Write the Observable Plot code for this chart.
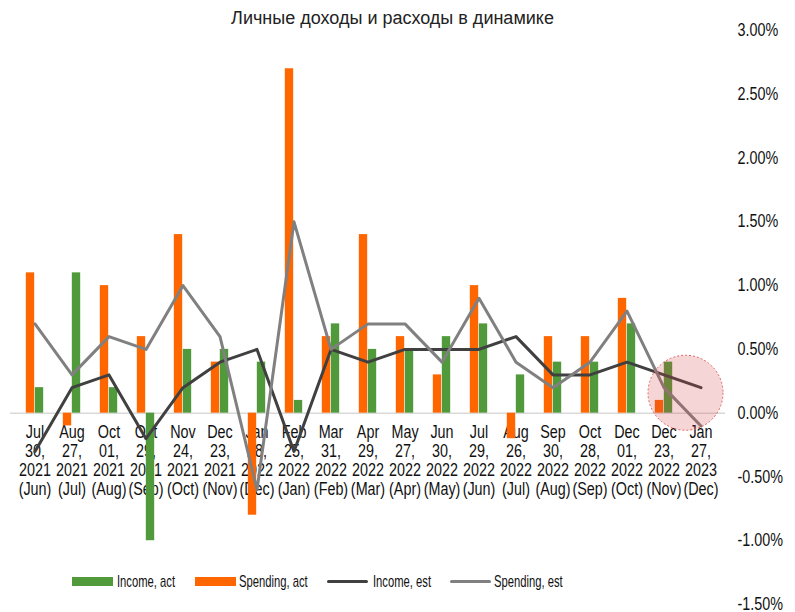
<!DOCTYPE html>
<html>
<head>
<meta charset="utf-8">
<script src="https://cdn.jsdelivr.net/npm/d3@7"></script>
<script src="https://cdn.jsdelivr.net/npm/@observablehq/plot@0.6"></script>
<style>
  html, body { margin: 0; padding: 0; background: #fff; }
  #wrap { position: relative; width: 795px; height: 612px; font-family: "Liberation Sans", Arial, sans-serif; color: #111; }
  #title { position: absolute; top: 7px; left: 0; width: 785px; text-align: center; font-size: 18px; line-height: 22px; color: #222; }
  #chart { position: absolute; top: 0; left: 0; }
  .leg { position: absolute; top: 572px; font-size: 17px; line-height: 20px; color: #111; white-space: nowrap; transform: scaleX(0.66); transform-origin: 0 50%; }
  .sw { position: absolute; }
</style>
</head>
<body>
<div id="wrap">
  <div id="chart"></div>
  <div id="title">Личные доходы и расходы в динамике</div>
</div>
<script>
// ---- data ----
const months = ["Jul 30, 2021 (Jun)", "Aug 27, 2021 (Jul)", "Oct 01, 2021 (Aug)", "Oct 29, 2021 (Sep)",
  "Nov 24, 2021 (Oct)", "Dec 23, 2021 (Nov)", "Jan 28, 2022 (Dec)", "Feb 25, 2022 (Jan)",
  "Mar 31, 2022 (Feb)", "Apr 29, 2022 (Mar)", "May 27, 2022 (Apr)", "Jun 30, 2022 (May)",
  "Jul 29, 2022 (Jun)", "Aug 26, 2022 (Jul)", "Sep 30, 2022 (Aug)", "Oct 28, 2022 (Sep)",
  "Dec 01, 2022 (Oct)", "Dec 23, 2022 (Nov)", "Jan 27, 2023 (Dec)"];
const incomeAct   = [0.2, 1.1, 0.2, -1.0, 0.5, 0.5, 0.4, 0.1, 0.7, 0.5, 0.5, 0.6, 0.7, 0.3, 0.4, 0.4, 0.7, 0.4, null];
const spendingAct = [1.1, -0.1, 1.0, 0.6, 1.4, 0.4, -0.8, 2.7, 0.6, 1.4, 0.6, 0.3, 1.0, -0.2, 0.6, 0.6, 0.9, 0.1, null];
const incomeEst   = [-0.3, 0.2, 0.3, -0.2, 0.2, 0.4, 0.5, -0.3, 0.5, 0.4, 0.5, 0.5, 0.5, 0.6, 0.3, 0.3, 0.4, 0.3, 0.2];
const spendingEst = [0.7, 0.3, 0.6, 0.5, 1.0, 0.6, -0.6, 1.5, 0.5, 0.7, 0.7, 0.4, 0.9, 0.4, 0.2, 0.4, 0.8, 0.2, -0.1];
const yTicks = [-1.5, -1.0, -0.5, 0, 0.5, 1.0, 1.5, 2.0, 2.5, 3.0];
const seriesNames = ["Income, act", "Spending, act", "Income, est", "Spending, est"];
const seriesColors = ["#519A3C", "#FF6600", "#404040", "#808080"];

// ---- table ----
const rows = months.map((m, i) => ({
  m, incomeAct: incomeAct[i], spendingAct: spendingAct[i],
  incomeEst: incomeEst[i], spendingEst: spendingEst[i]
}));
const label = m => {
  const [md, rest] = m.split(", ");
  const [yr, mon] = rest.split(" ");
  const [mo, dd] = md.split(" ");
  return `${mo}\n${dd},\n${yr}\n${mon}`;
};

const W = 795, H = 612, mL = 10, mR = 70;
const bw = (W - mL - mR) / months.length;
const half = bw / 2, barW = 9;
const font = "Liberation Sans, Arial, sans-serif";

const plot = Plot.plot({
  width: W, height: H,
  marginLeft: mL, marginRight: mR, marginTop: 30, marginBottom: 8,
  style: { fontFamily: font, fontSize: "17.5px", color: "#111", background: "transparent" },
  x: { type: "band", domain: months, padding: 0, axis: null },
  y: { domain: [-1.5, 3.0], axis: null },
  marks: [
    Plot.ruleY([0], { stroke: "#d9d9d9", strokeWidth: 1.5 }),
    Plot.text(rows, { x: "m", y: () => 0, text: d => label(d.m), lineAnchor: "top", dy: 11,
      lineHeight: 1.086, fontSize: 17.5, fill: "#111" }),
    Plot.barY(rows.filter(d => d.spendingAct != null), { x: "m", y: "spendingAct", fill: seriesColors[1],
      insetLeft: half - barW, insetRight: half }),
    Plot.barY(rows.filter(d => d.incomeAct != null), { x: "m", y: "incomeAct", fill: seriesColors[0],
      insetLeft: half, insetRight: half - barW }),
    Plot.line(rows, { x: "m", y: "incomeEst", stroke: seriesColors[2], strokeWidth: 3, strokeLinejoin: "round" }),
    Plot.line(rows, { x: "m", y: "spendingEst", stroke: seriesColors[3], strokeWidth: 3, strokeLinejoin: "round" }),
    Plot.axisY({ anchor: "right", ticks: yTicks, tickSize: 0, tickPadding: 12, textAnchor: "start",
      tickFormat: d => d.toFixed(2) + "%", fontSize: 17.5, fill: "#111" }),
    // highlight annotation around the latest estimates
    Plot.dot([months[17]], { x: d => d, y: () => 0.16, dx: 21.5, r: 37.5, fill: "#d04040", fillOpacity: 0.22,
      stroke: "#e06060", strokeWidth: 1, strokeDasharray: "2,2" })
  ]
});
document.getElementById("chart").appendChild(plot);

// emulate a condensed face: compress each text horizontally around its anchor
const K = 0.82;
plot.querySelectorAll("text").forEach(t => {
  const ax = parseFloat(t.getAttribute("x")) || 0;
  const ay = parseFloat(t.getAttribute("y")) || 0;
  const tr = t.getAttribute("transform") || "";
  t.setAttribute("transform", `${tr} translate(${ax},${ay}) scale(${K},1) translate(${-ax},${-ay})`);
});

// ---- legend ----
const wrap = document.getElementById("wrap");
const legendPos = [ {sw: 72, tx: 117}, {sw: 195, tx: 239}, {sw: 327, tx: 373}, {sw: 450, tx: 494} ];
seriesNames.forEach((name, i) => {
  const sw = document.createElement("div");
  sw.className = "sw";
  sw.style.left = legendPos[i].sw + "px";
  sw.style.width = "41px";
  sw.style.background = seriesColors[i];
  if (i < 2) { sw.style.top = "577px"; sw.style.height = "9px"; }
  else { sw.style.top = "580px"; sw.style.height = "3px"; sw.style.borderRadius = "2px"; }
  wrap.appendChild(sw);
  const tx = document.createElement("div");
  tx.className = "leg";
  tx.style.left = legendPos[i].tx + "px";
  tx.textContent = name;
  wrap.appendChild(tx);
});
</script>
</body>
</html>
